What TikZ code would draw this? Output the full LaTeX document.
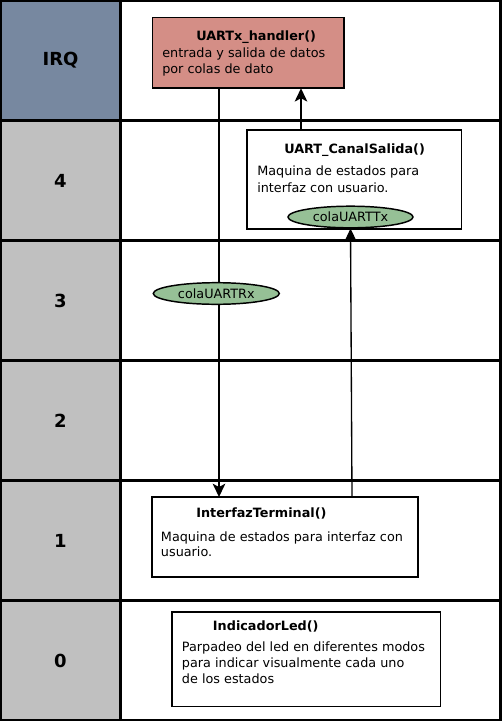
\documentclass[tikz,border=0pt]{standalone}
\usepackage{fontspec}
\setmainfont{DejaVu Sans}
\usepackage{tikz}
\usetikzlibrary{shapes.geometric,arrows.meta,positioning,calc}
\definecolor{IrqBlue}{RGB}{119,136,160}
\definecolor{PrioGray}{RGB}{192,192,192}
\definecolor{HandlerRed}{RGB}{212,142,134}
\definecolor{ColaGreen}{RGB}{150,192,150}
\newcommand{\txt}[0]{\fontsize{9.6}{12}\selectfont}
\newcommand{\prio}[0]{\fontsize{13.5}{16}\selectfont\bfseries}

\begin{document}
\begin{tikzpicture}[x=0.75pt,y=-0.75pt,->,>={Stealth[length=10pt,width=9.5pt,inset=2.5pt]},
    celda/.style={draw,line width=1.6pt,inner sep=0pt,outer sep=0pt,minimum height=90pt},
    caja/.style={draw,line width=1.2pt,inner sep=0pt,outer sep=0pt},
    cola/.style={ellipse,draw,line width=1.1pt,fill=ColaGreen,inner sep=0pt,minimum height=16.2pt,font=\txt},
    texto/.style={anchor=base west,inner sep=0pt,align=left,font=\txt},
    titulo/.style={anchor=base west,inner sep=0pt,font=\txt\bfseries}]
        \useasboundingbox (0,0) rectangle (501,721);

        % Draw the priority rows
        \node[celda, fill=IrqBlue, minimum width=90pt, font=\prio] (pirq) at (60.5,60.5) {IRQ};
        \node[celda, minimum width=285pt] (firq) at (310.5,60.5) {};
        \foreach \lab[count=\c,evaluate={\yc=60.5+120*\c}] in {4, 3, 2, 1, 0}{
            \node[celda, fill=PrioGray, minimum width=90pt, font=\prio] (p\lab) at (60.5,\yc) {\lab};
            \node[celda, minimum width=285pt] (f\lab) at (310.5,\yc) {};
        }

        % Draw the task boxes
        \node[caja, fill=HandlerRed, minimum width=143.8pt, minimum height=53.2pt] (h) at (248.2,52.8) {};
        \node[caja, minimum width=161.2pt, minimum height=74.2pt] (cs) at (354.2,179.5) {};
        \node[caja, minimum width=199.7pt, minimum height=60pt] (it) at (284.9,537) {};
        \node[caja, minimum width=201.5pt, minimum height=71pt] (led) at (306.3,659.3) {};

        % Texts of the tasks (base = last line)
        \node[titulo] (ht) at (196,40.5) {UARTx\_handler()};
        \node[texto] (hb) at (162,73) {entrada y salida de datos\\por colas de dato};
        \node[titulo] (cst) at (284,153) {UART\_CanalSalida()};
        \node[texto] (csb) at (257,192.5) {Maquina de estados para\\[1pt]interfaz con usuario.};
        \node[titulo] (itt) at (196,517.7) {InterfazTerminal()};
        \node[texto] (itb) at (160.7,556) {Maquina de estados para interfaz con\\[-1pt]usuario.};
        \node[titulo] (ledt) at (212.7,630.7) {IndicadorLed()};
        \node[texto] (ledb) at (181.7,683) {Parpadeo del led en diferentes modos\\para indicar visualmente cada uno\\de los estados};

        % Queue inside UART_CanalSalida
        \node[cola, minimum width=93.8pt] (ctx) at (350.5,217) {colaUARTTx};

        % Draw the data flow
        \coordinate (rx) at (219,0);
        \coordinate (tx) at (352,0);
        \coordinate (sx) at (301,0);
        \draw[line width=1pt] (h.south -| rx) -- (it.north -| rx);
        \draw[line width=1pt] (it.north -| tx) -- (ctx.south);
        \draw[line width=1pt] (cs.north -| sx) -- (h.south -| sx);

        % Queue on the way down
        \node[cola, minimum width=94.5pt] (crx) at (216.3,293.5) {colaUARTRx};
    \end{tikzpicture}
\end{document}
